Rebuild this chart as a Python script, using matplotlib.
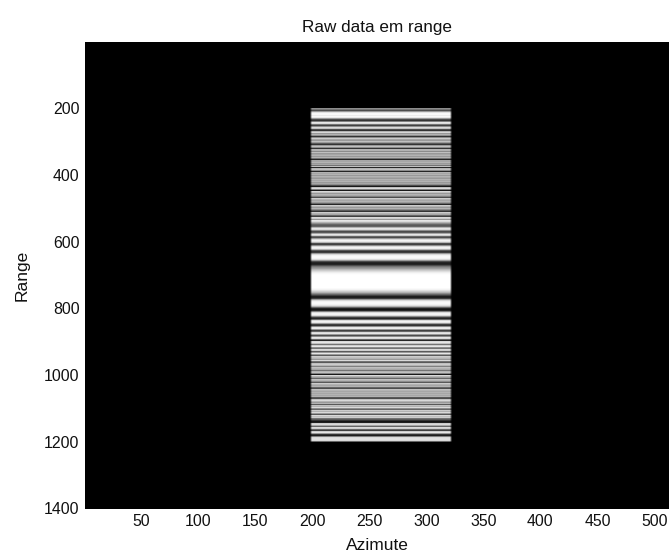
import numpy as np
import matplotlib
matplotlib.use('Agg')
import matplotlib.pyplot as plt

plt.rcParams['font.family'] = ['Liberation Sans', 'DejaVu Sans']

# brightness of the stripes, read top to bottom, one value every 3 range rows
gray_top = [
    .55,.45,.3,.6,.88,.97,.97,.92,.97,.9,.6,.3,.2,.5,.9,.85,.45,.25,.55,.85,.75,.3,.2,.7,.85,.6,.7,.55,.2,.55,.8,.65,
    .6,.75,.6,.35,.2,.6,.75,.55,.2,.7,.7,.55,.75,.6,.65,.7,.6,.7,.45,.15,.65,.65,.7,.6,.65,.45,.75,.15,.7,.75,.55,.15,
    .7,.65,.7,.6,.7,.65,.6,.7,.65,.7,.6,.65,.55,.3,.1,.75,.85,.5,.1,.85,.75,.6,.7,.65,.5,.3,.8,.7,.65,.7,.6,.4,.15,
    .8,.7,.6,.7,.55,.35,.2,.8,.7,.65,.4,.25,.85,.8,.6,
]
gray_mid = [
    .9,.85,.7,.55,.4,.35,.4,.7,.9,.85,.55,.3,.35,.65,.9,.8,.4,.3,.6,.85,.95,.9,.7,.3,.25,.55,.85,.95,.92,.7,.35,.2,.25,
    .6,.85,.95,.98,.98,.95,.85,.6,.3,.15,.12,.15,.3,.45,.55,.62,.72,.8,.87,.93,.97,.99,
    1,1,1,1,1,1,1,1,1,1,1,1,1,
    .98,.95,.88,.8,.7,.55,.4,.25,.12,.12,.25,.6,.85,.95,.98,.98,.95,.88,.7,.4,.15,.08,.15,.5,.85,.95,.95,.85,.55,.25,.15,
    .4,.85,.95,.9,.6,.25,.2,.55,.9,.92,.6,.25,.4,.85,.9,.6,.3,.55,.9,.85,.4,.15,
]
gray_low = [
    .85,.9,.75,.45,.8,.9,.55,.45,.85,.8,.35,.6,.9,.6,.35,.8,.75,.7,.6,.85,.45,.35,.75,.8,.7,.5,.75,.7,.65,.45,.7,.75,.5,.1,
    .85,.7,.6,.4,.75,.7,.55,.35,.8,.7,.65,.7,.4,.3,.75,.7,.65,.7,.65,.7,.65,.7,.35,.3,.75,.85,.7,.6,.7,.35,.75,.7,.85,.55,.4,
    .8,.7,.85,.6,.35,.85,.75,.8,.45,.35,.2,.08,.12,.8,.85,.65,.4,.85,.8,.4,.25,.8,.9,.6,.2,.12,.5,.85,.88,.88,.85,.4,
]
edge_taper = [.25, .75, 1]

xticks = [50, 100, 150, 200, 250, 300, 350, 400, 450, 500]
yticks = [200, 400, 600, 800, 1000, 1200, 1400]

gray = np.array(gray_top + gray_mid + gray_low)
taper = np.array(edge_taper + [1] * 118 + edge_taper[::-1])
img = np.outer(gray, taper)

fig = plt.figure(figsize=(6.69, 5.56), dpi=100)
ax = fig.add_axes([85 / 669, 1 - 508.5 / 556, 584 / 669, 466.5 / 556])
ax.set_facecolor('black')
ax.imshow(img, cmap='gray', vmin=0, vmax=1, aspect='auto', interpolation='nearest',
          extent=[198, 322, 200 + 3 * len(gray), 200])
ax.set_xlim(0.5, 512.8)
ax.set_ylim(1400.5, 0.5)
ax.set_xticks(xticks)
ax.set_yticks(yticks)
ax.tick_params(length=0, labelsize=11.4, colors='#111111')
ax.tick_params(axis='x', pad=4.2)
ax.tick_params(axis='y', pad=4)
for s in ax.spines.values():
    s.set_visible(False)
ax.set_xlabel('Azimute', fontsize=12.5, labelpad=6.5, color='#111111')
ax.set_ylabel('Range', fontsize=12.5, labelpad=10.5, color='#111111')
ax.set_title('Raw data em range', fontsize=12.3, pad=7, color='#111111')

fig.savefig('out.png', dpi=100)
